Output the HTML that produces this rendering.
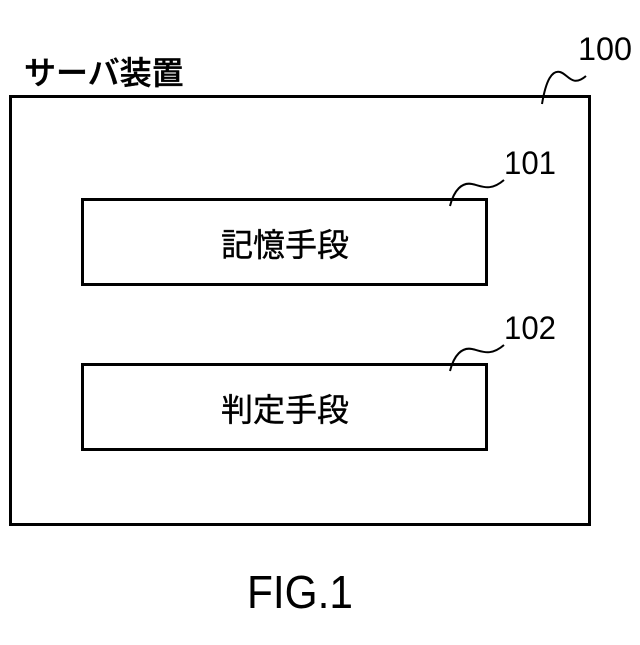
<!DOCTYPE html>
<html><head><meta charset="utf-8"><style>
body{margin:0;background:#fff;width:640px;height:640px;overflow:hidden}
</style></head><body>
<svg width="640" height="640" viewBox="0 0 640 640" xmlns="http://www.w3.org/2000/svg" font-family="'Liberation Sans','Noto Sans CJK JP',sans-serif">
<rect x="0" y="0" width="640" height="640" fill="#fff"/>
<rect x="10.5" y="96.5" width="579" height="428" fill="none" stroke="#000" stroke-width="3"/>
<rect x="82.5" y="199.5" width="404" height="85" fill="none" stroke="#000" stroke-width="3"/>
<rect x="82.5" y="364.5" width="404" height="85" fill="none" stroke="#000" stroke-width="3"/>
<text x="24" y="84" font-size="32" font-weight="500" stroke="#000" stroke-width="0.4">サーバ装置</text>
<text x="285" y="256" font-size="32" text-anchor="middle" stroke="#000" stroke-width="0.4">記憶手段</text>
<text x="285" y="421" font-size="32" text-anchor="middle" stroke="#000" stroke-width="0.4">判定手段</text>
<text x="605" y="60" font-size="32" text-anchor="middle" textLength="54" lengthAdjust="spacingAndGlyphs">100</text>
<text x="530" y="174" font-size="32" text-anchor="middle" textLength="52" lengthAdjust="spacingAndGlyphs">101</text>
<text x="530" y="339" font-size="32" text-anchor="middle" textLength="52" lengthAdjust="spacingAndGlyphs">102</text>
<path d="M542,104 C546,80 552,70 560,72 C568,74 572,88 586,76" fill="none" stroke="#000" stroke-width="2"/>
<path d="M450,206 C454,190 462,182 472,184 C482,186 490,192 504,180" fill="none" stroke="#000" stroke-width="2"/>
<path d="M450,371 C454,355 462,347 472,349 C482,351 490,357 504,345" fill="none" stroke="#000" stroke-width="2"/>
<text x="300" y="608" font-size="46" text-anchor="middle" textLength="106" lengthAdjust="spacingAndGlyphs">FIG.1</text>
</svg>
</body></html>
